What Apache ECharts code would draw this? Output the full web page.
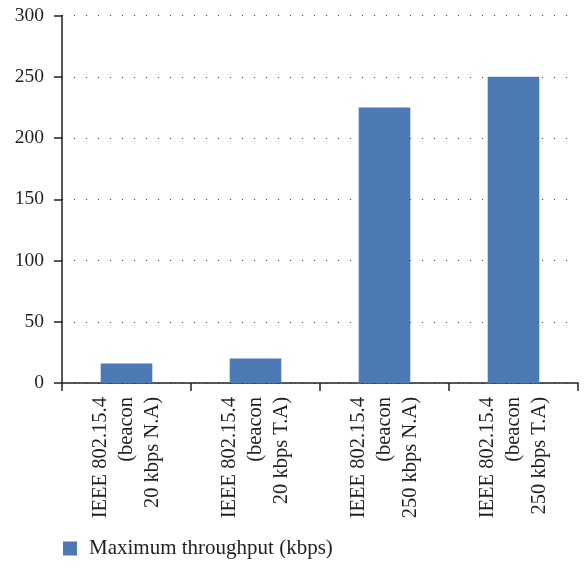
<!DOCTYPE html>
<html><head><meta charset="utf-8">
<script src="https://cdn.jsdelivr.net/npm/echarts@6/dist/echarts.min.js"></script>
<style>html,body{margin:0;padding:0;background:#fff}#c{width:587px;height:569px}</style>
</head><body><div id="c"></div>
<script>
const categories = [
  "IEEE 802.15.4\n(beacon\n20 kbps N.A)",
  "IEEE 802.15.4\n(beacon\n20 kbps T.A)",
  "IEEE 802.15.4\n(beacon\n250 kbps N.A)",
  "IEEE 802.15.4\n(beacon\n250 kbps T.A)"
];
const seriesName = "Maximum throughput (kbps)";
const throughput = [16, 20, 225, 250];
const yTicks = [0, 50, 100, 150, 200, 250, 300];

const font = "'Liberation Serif', 'DejaVu Serif', serif";
const chart = echarts.init(document.getElementById('c'), null, {renderer: 'canvas'});
chart.setOption({
  animation: false,
  grid: {left: 62, right: 9, top: 15.5, bottom: 186, containLabel: false},
  legend: {
    data: [seriesName], left: 58, top: 533, itemWidth: 14, itemHeight: 14, itemGap: 10,
    icon: 'rect',
    textStyle: {fontFamily: font, fontSize: 21, color: '#231f20', padding: [0, 0, 0, 7]}
  },
  xAxis: {
    type: 'category', data: categories,
    axisLine: {lineStyle: {color: '#231f20', width: 1.5}},
    axisTick: {show: true, length: 8, alignWithLabel: false, lineStyle: {color: '#231f20', width: 1.5}},
    axisLabel: {rotate: 90, fontFamily: font, fontSize: 20.5, color: '#231f20', lineHeight: 26, margin: 14, interval: 0}
  },
  yAxis: {
    type: 'value', min: yTicks[0], max: yTicks[yTicks.length - 1], interval: 50,
    axisLine: {show: true, lineStyle: {color: '#231f20', width: 1.5}},
    axisTick: {show: true, length: 8, lineStyle: {color: '#231f20', width: 1.5}},
    axisLabel: {fontFamily: font, fontSize: 19.5, color: '#231f20', margin: 18},
    splitLine: {show: true, lineStyle: {color: '#444', width: 1.1, type: [1.1, 10.9], dashOffset: -12}}
  },
  series: [{
    name: seriesName, type: 'bar', data: throughput,
    barCategoryGap: '60%',
    itemStyle: {color: '#4d7ab5'}
  }]
});
</script></body></html>
